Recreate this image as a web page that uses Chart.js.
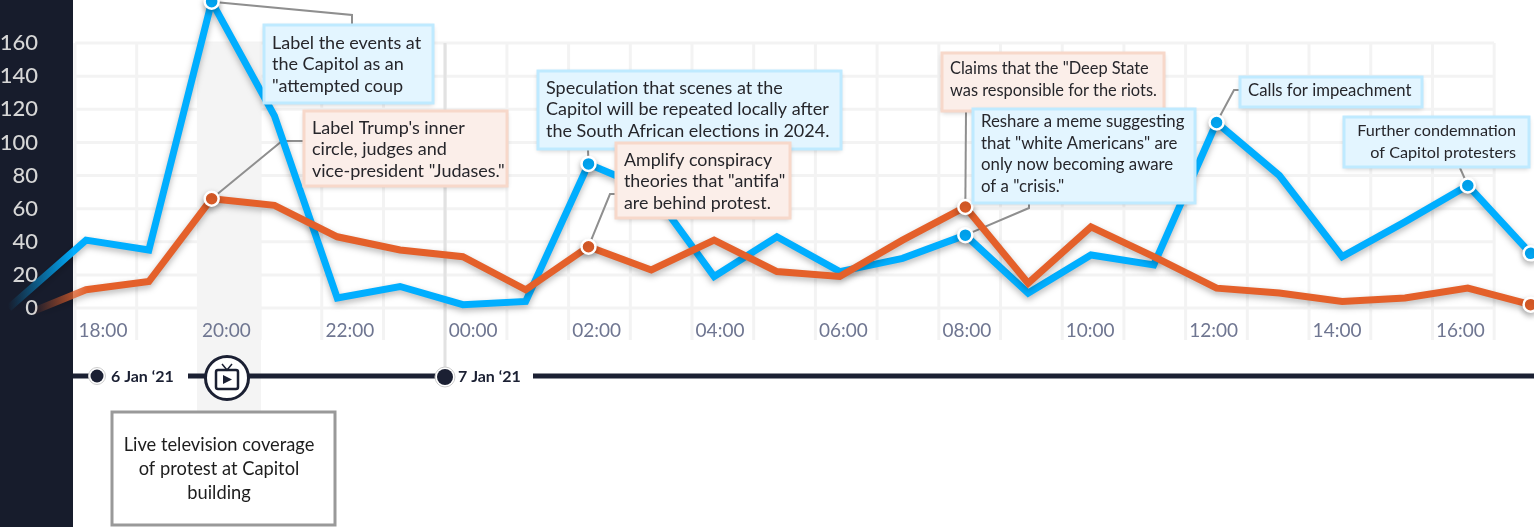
<!DOCTYPE html>
<html>
<head>
<meta charset="utf-8">
<style>
  html, body { margin: 0; padding: 0; background: #fff; overflow: hidden; }
  canvas { display: block; }
</style>
<script src="https://cdn.jsdelivr.net/npm/chart.js@4"></script>
</head>
<body>
<canvas id="myChart" width="1534" height="527"></canvas>
<script>
/* data */
// hours counted from midnight 6 Jan, 24 = 00:00 on 7 Jan
var hours = [16.77, 18, 19, 20, 21, 22, 23, 24, 25, 26, 27, 28, 29, 30, 31, 32, 33, 34, 35, 36, 37, 38, 39, 40, 41];
var blueValues = [0, 41, 35, 185, 116, 6, 13, 2, 4, 87, 71, 19, 43, 22, 30, 44, 9, 32, 26, 112, 80, 31, 52, 74, 33];
var orangeValues = [-8, 11, 16, 66, 62, 43, 35, 31, 11, 37, 23, 41, 22, 19, 41, 61, 15, 49, 31, 12, 9, 4, 6, 12, 2];
var blueMarkers = [20, 26, 32, 36, 40, 41];
var orangeMarkers = [20, 26, 32, 41];
var gridHours = [18, 19, 20, 21, 22, 23, 24, 25, 26, 27, 28, 29, 30, 31, 32, 33, 34, 35, 36, 37, 38, 39, 40, 41];
var tickHours = [18, 20, 22, 24, 26, 28, 30, 32, 34, 36, 38, 40];
var yTicks = [0, 20, 40, 60, 80, 100, 120, 140, 160];

var capitolText = ["Label the events at", "the Capitol as an", "\"attempted coup"];
var trumpText = ["Label Trump's inner", "circle, judges and", "vice-president \"Judases.\""];
var speculationText = ["Speculation that scenes at the", "Capitol will be repeated locally after", "the South African elections in 2024."];
var antifaText = ["Amplify conspiracy", "theories that \"antifa\"", "are behind protest."];
var deepStateText = ["Claims that the \"Deep State", "was responsible for the riots."];
var memeText = ["Reshare a meme suggesting", "that \"white Americans\" are", "only now becoming aware", "of a \"crisis.\""];
var impeachText = ["Calls for impeachment"];
var condemnText = ["Further condemnation", "of Capitol protesters"];
var tvText = ["Live television coverage", "of protest at Capitol", "building"];

var BLUE = "#00aeff";
var ORANGE = "#e4602a";
var DARK = "#171c2c";
var FONT = "Lato, 'Noto Sans', sans-serif";

/* annotation boxes, in drawing order */
var notes = [
  { lines: capitolText, kind: "blue", size: 18, box: [264, 25, 169, 78], top: 43, hour: 20, values: blueValues, path: [[352, 15], [352, 25]] },
  { lines: trumpText, kind: "orange", size: 18, box: [304, 111, 203, 75], top: 128, hour: 20, values: orangeValues, path: [[282, 141], [304, 141]] },
  { lines: speculationText, kind: "blue", size: 18, box: [538, 71, 303, 78], top: 88, hour: 26, values: blueValues, path: [[588, 150]] },
  { lines: antifaText, kind: "orange", size: 17.8, box: [616, 143, 174, 75], top: 160, hour: 26, values: orangeValues, path: [[610, 194], [617, 194]] },
  { lines: deepStateText, kind: "orange", size: 16.4, box: [942, 53, 222, 58], top: 69, hour: 32, values: orangeValues, path: [[966, 112]] },
  { lines: memeText, kind: "blue", size: 16.8, box: [973, 109, 222, 94], top: 122, hour: 32, values: blueValues, path: [[1029, 208], [1029, 203]] },
  { lines: impeachText, kind: "blue", size: 16.7, box: [1240, 77, 182, 30], top: 91, hour: 36, values: blueValues, path: [[1234, 90], [1240, 90]] },
  { lines: condemnText, kind: "blue", size: 16.2, box: [1344, 117, 185, 50], top: 131, right: 1516, hour: 40, values: blueValues, path: [[1460, 168]] }
];

function points(values) {
  return hours.map(function (h, i) {
    return { x: h, y: values[i] };
  });
}

function fadeIn(chart, color, from, to) {
  var g = chart.ctx.createLinearGradient(from, 0, to, 0);
  g.addColorStop(0, color + "00");
  g.addColorStop(1, color);
  return g;
}

function hourLabel(h) {
  var hh = h % 24;
  return (hh < 10 ? "0" : "") + hh + ":00";
}

function noPadding(s) {
  s.paddingLeft = s.paddingRight = s.paddingTop = s.paddingBottom = 0;
}

/* panel, grid, shaded band and the date line sit under the axes */
var backdrop = {
  id: "backdrop",
  beforeDraw: function (chart) {
    var c = chart.ctx;
    var grid = chart.scales.xGrid;
    var y = chart.scales.y;
    c.save();

    c.fillStyle = DARK;
    c.fillRect(0, 0, 73, 527);

    c.strokeStyle = "#f3f3f3";
    c.lineWidth = 3;
    yTicks.forEach(function (v) {
      c.beginPath();
      c.moveTo(75, y.getPixelForValue(v));
      c.lineTo(grid.getPixelForValue(41), y.getPixelForValue(v));
      c.stroke();
    });
    gridHours.forEach(function (h) {
      var px = grid.getPixelForValue(h);
      c.beginPath();
      c.moveTo(px, y.getPixelForValue(160));
      c.lineTo(px, 340);
      c.stroke();
    });

    // coverage band
    c.fillStyle = "#f4f4f4";
    c.fillRect(197, 43, 64, 369);

    // midnight line
    c.strokeStyle = "#e2e2e2";
    c.beginPath();
    c.moveTo(445, 43);
    c.lineTo(445, 376);
    c.stroke();

    // date line
    c.strokeStyle = "#1b2033";
    c.lineWidth = 5;
    [[73, 92], [188, 440], [533, 1534]].forEach(function (s) {
      c.beginPath();
      c.moveTo(s[0], 376);
      c.lineTo(s[1], 376);
      c.stroke();
    });
    dateDot(c, 97, 376, 6.5);
    dateDot(c, 445, 377, 8);
    c.fillStyle = "#1b2033";
    c.font = "bold 16px " + FONT;
    c.textAlign = "left";
    c.textBaseline = "middle";
    c.fillText("6 Jan \u201821", 111, 377);
    c.fillText("7 Jan \u201821", 458, 377);

    drawTv(c, 227, 378);
    c.restore();
  },
  beforeDatasetsDraw: function (chart) {
    var c = chart.ctx;
    c.save();
    c.strokeStyle = "#8f8f8f";
    c.lineWidth = 2;
    notes.forEach(function (n) {
      var i = hours.indexOf(n.hour);
      c.beginPath();
      c.moveTo(chart.scales.x.getPixelForValue(n.hour), chart.scales.y.getPixelForValue(n.values[i]));
      n.path.forEach(function (p) {
        c.lineTo(p[0], p[1]);
      });
      c.stroke();
    });
    c.restore();
  },
  beforeDatasetDraw: function (chart) {
    var c = chart.ctx;
    c.save();
    c.shadowColor = "rgba(0,0,0,0.28)";
    c.shadowBlur = 6;
    c.shadowOffsetY = 3;
  },
  afterDatasetDraw: function (chart) {
    chart.ctx.restore();
  },
  afterDatasetsDraw: function (chart) {
    var c = chart.ctx;
    c.save();
    c.textBaseline = "middle";
    notes.forEach(function (n) {
      drawNote(c, n);
    });

    // television note
    c.fillStyle = "#fff";
    c.fillRect(112, 412, 223, 113);
    c.strokeStyle = "#999";
    c.lineWidth = 3;
    c.strokeRect(112, 412, 223, 113);
    c.fillStyle = "#1d1d1d";
    c.font = "18.3px " + FONT;
    c.textAlign = "center";
    tvText.forEach(function (t, i) {
      c.fillText(t, 219, 445 + i * 24);
    });
    c.restore();
  }
};

function dateDot(c, x, y, r) {
  c.fillStyle = "#fff";
  c.strokeStyle = "#ccc";
  c.lineWidth = 1;
  c.beginPath();
  c.arc(x, y, r + 2, 0, Math.PI * 2);
  c.fill();
  c.stroke();
  c.fillStyle = "#1b2033";
  c.beginPath();
  c.arc(x, y, r, 0, Math.PI * 2);
  c.fill();
}

function drawTv(c, x, y) {
  c.fillStyle = "#fff";
  c.strokeStyle = "#1b2033";
  c.lineWidth = 3;
  c.beginPath();
  c.arc(x, y, 21.5, 0, Math.PI * 2);
  c.fill();
  c.stroke();
  c.lineWidth = 2.5;
  c.beginPath();
  c.roundRect(x - 11, y - 8, 22, 19, 2);
  c.stroke();
  c.lineWidth = 1.5;
  c.beginPath();
  c.moveTo(x - 5, y - 14);
  c.lineTo(x, y - 8);
  c.lineTo(x + 5, y - 14);
  c.stroke();
  c.fillStyle = "#1b2033";
  c.beginPath();
  c.moveTo(x - 4, y - 3);
  c.lineTo(x + 5, y + 1.5);
  c.lineTo(x - 4, y + 6);
  c.closePath();
  c.fill();
}

function drawNote(c, n) {
  var b = n.box;
  c.save();
  c.shadowColor = "rgba(0,0,0,0.2)";
  c.shadowBlur = 5;
  c.shadowOffsetY = 2;
  c.fillStyle = n.kind == "blue" ? "#e3f5ff" : "#fbeee9";
  c.fillRect(b[0], b[1], b[2], b[3]);
  c.restore();
  c.strokeStyle = n.kind == "blue" ? "#bfeaff" : "#f7d8ca";
  c.lineWidth = 3;
  c.strokeRect(b[0], b[1], b[2], b[3]);
  c.fillStyle = "#26262b";
  c.font = n.size + "px " + FONT;
  c.textAlign = n.right ? "right" : "left";
  n.lines.forEach(function (t, i) {
    c.fillText(t, n.right ? n.right : b[0] + 8, n.top + i * 21.4);
  });
}

var ctx = document.getElementById("myChart");

var chart = new Chart(ctx, {
  type: "line",
  data: {
    datasets: [
      {
        label: "orange",
        data: points(orangeValues),
        borderColor: function (c) { return fadeIn(c.chart, ORANGE, 33, 88); },
        borderWidth: 7,
        borderJoinStyle: "miter",
        tension: 0,
        clip: false,
        pointRadius: function (c) { return orangeMarkers.indexOf(hours[c.dataIndex]) >= 0 ? 7 : 0; },
        pointBackgroundColor: ORANGE,
        pointBorderColor: "#fff",
        pointBorderWidth: 2.5
      },
      {
        label: "blue",
        data: points(blueValues),
        borderColor: function (c) { return fadeIn(c.chart, BLUE, 8, 75); },
        borderWidth: 7,
        borderJoinStyle: "miter",
        tension: 0,
        clip: false,
        pointRadius: function (c) { return blueMarkers.indexOf(hours[c.dataIndex]) >= 0 ? 7 : 0; },
        pointBackgroundColor: BLUE,
        pointBorderColor: "#fff",
        pointBorderWidth: 2.5
      }
    ]
  },
  options: {
    responsive: false,
    animation: false,
    events: [],
    layout: { padding: 0, autoPadding: false },
    plugins: { legend: { display: false }, tooltip: { enabled: false } },
    scales: {
      x: { type: "linear", display: false, min: 17.267, max: 41.054 },
      xGrid: {
        type: "linear",
        position: "bottom",
        min: 17.433,
        max: 41.646,
        grid: { display: false },
        border: { display: false },
        afterBuildTicks: function (s) {
          s.ticks = tickHours.map(function (h) { return { value: h }; });
        },
        afterFit: function (s) { s.height = 219; noPadding(s); },
        ticks: {
          autoSkip: false,
          maxRotation: 0,
          labelOffset: 28,
          padding: 3,
          color: "#6f7691",
          font: { family: FONT, size: 19 },
          callback: function (v) { return hourLabel(v); }
        }
      },
      y: {
        min: 0,
        max: 186,
        grid: { display: false },
        border: { display: false },
        afterBuildTicks: function (s) {
          s.ticks = yTicks.map(function (v) { return { value: v }; });
        },
        afterFit: function (s) { s.width = 40; noPadding(s); },
        ticks: {
          padding: -6,
          color: "#d6d6d6",
          font: { family: FONT, size: 22, weight: "500" }
        }
      }
    }
  },
  plugins: [backdrop]
});
</script>
</body>
</html>
